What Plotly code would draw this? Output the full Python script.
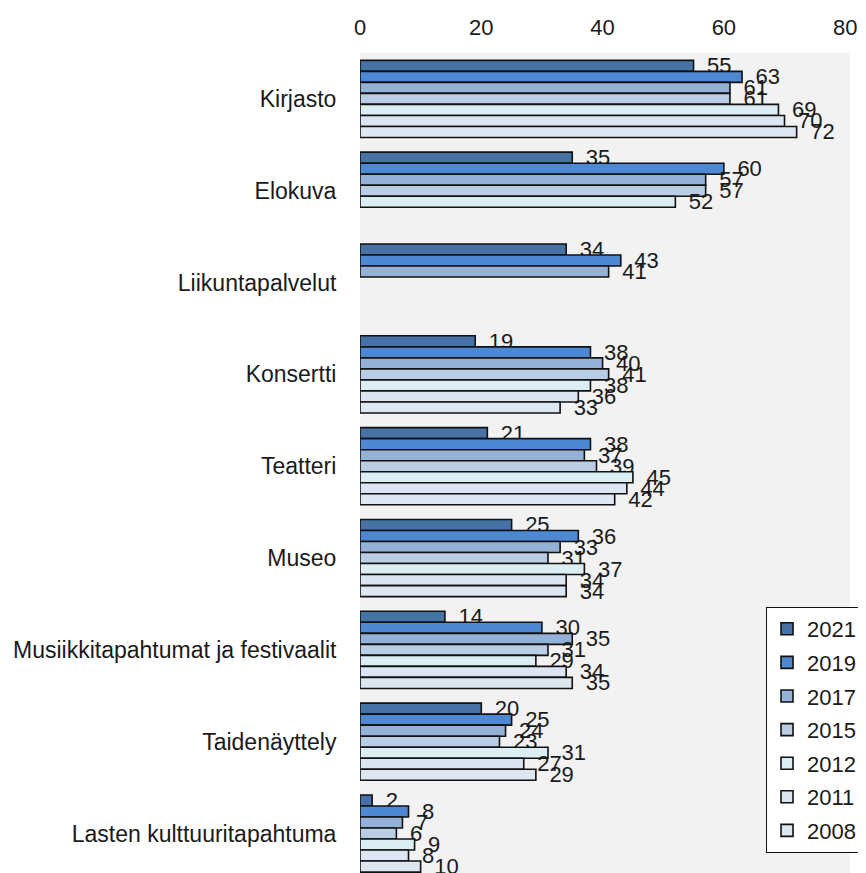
import plotly.graph_objects as go

categories = [
    "Kirjasto",
    "Elokuva",
    "Liikuntapalvelut",
    "Konsertti",
    "Teatteri",
    "Museo",
    "Musiikkitapahtumat ja festivaalit",
    "Taidenäyttely",
    "Lasten kulttuuritapahtuma",
]

years = ["2021", "2019", "2017", "2015", "2012", "2011", "2008"]

v2021 = [55, 35, 34, 19, 21, 25, 14, 20, 2]
v2019 = [63, 60, 43, 38, 38, 36, 30, 25, 8]
v2017 = [61, 57, 41, 40, 37, 33, 35, 24, 7]
v2015 = [61, 57, None, 41, 39, 31, 31, 23, 6]
v2012 = [69, 52, None, 38, 45, 37, 29, 31, 9]
v2011 = [70, None, None, 36, 44, 34, 34, 27, 8]
v2008 = [72, None, None, 33, 42, 34, 35, 29, 10]

series = [v2021, v2019, v2017, v2015, v2012, v2011, v2008]
colors = ["#4672a6", "#4d89d3", "#94b2d7", "#b9cde5", "#dbeef3", "#dce6f2", "#dde7f2"]

FONT = "Liberation Sans, Arial, sans-serif"
FS = 22
FS_CAT = 23

fig = go.Figure()
for name, vals, col in zip(years, series, colors):
    fig.add_trace(go.Bar(
        y=categories,
        x=vals,
        name=name,
        orientation="h",
        legendgroup=name,
        marker=dict(color=col, line=dict(color="#111111", width=1.6)),
        texttemplate="\u00a0\u2009%{x}",
        textposition="outside",
        constraintext="none",
        cliponaxis=False,
        textfont=dict(family=FONT, size=FS, color="#1a1a1a"),
        hoverinfo="skip",
    ))

# page is offset 8px by the default body margin
fig.update_layout(
    width=858,
    height=865,
    barmode="group",
    bargap=0.16,
    bargroupgap=0,
    paper_bgcolor="white",
    plot_bgcolor="#f2f2f2",
    margin=dict(l=352, r=16, t=45, b=0, autoexpand=False),
    font=dict(family=FONT, size=FS, color="#1a1a1a"),
    xaxis=dict(
        side="top",
        range=[0, 80.8],
        tickvals=[0, 20, 40, 60, 80],
        showgrid=False,
        zeroline=False,
        showline=False,
        ticks="outside",
        ticklen=8,
        tickcolor="rgba(0,0,0,0)",
        tickfont=dict(family=FONT, size=FS, color="#1a1a1a"),
    ),
    yaxis=dict(
        type="category",
        range=[8.43, -0.5],
        showgrid=False,
        zeroline=False,
        showline=False,
        ticks="outside",
        ticklen=18,
        tickcolor="rgba(0,0,0,0)",
        tickfont=dict(family=FONT, size=FS_CAT, color="#1a1a1a"),
    ),
    legend=dict(
        x=0.8286,
        y=1 - (607 - 8 - 45) / 820,
        xanchor="left",
        yanchor="top",
        bgcolor="white",
        bordercolor="#111111",
        borderwidth=1,
        traceorder="grouped",
        tracegroupgap=2,
        font=dict(family=FONT, size=FS, color="#1a1a1a"),
    ),
    showlegend=True,
)

fig.write_html("out.html")
